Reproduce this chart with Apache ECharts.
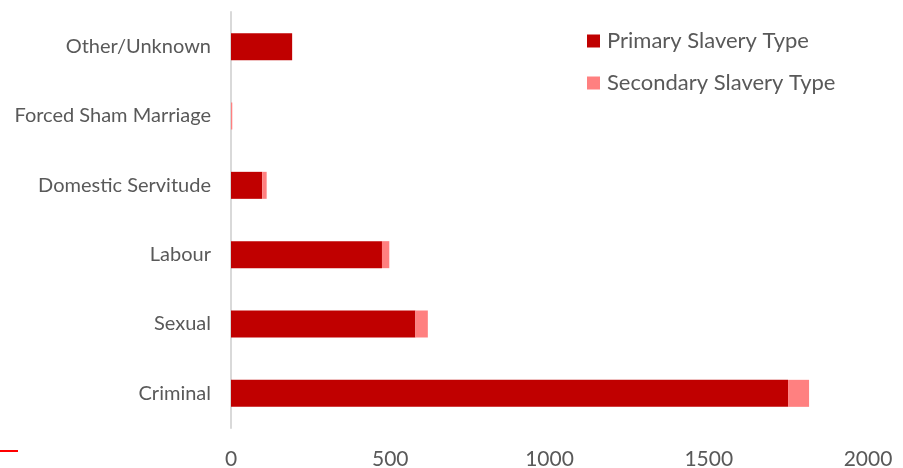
<!DOCTYPE html>
<html><head><meta charset="utf-8">
<script src="https://cdn.jsdelivr.net/npm/echarts@6/dist/echarts.min.js"></script>
<style>html,body{margin:0;padding:0;background:#fff}#c{width:903px;height:468px}</style>
</head><body><div id="c"></div>
<script>
const categories = ['Criminal','Sexual','Labour','Domestic Servitude','Forced Sham Marriage','Other/Unknown'];
const primary = [1749, 579, 474, 98, 0, 192];
const secondary = [66, 39, 23, 14, 4, 0];
const xTicks = [0, 500, 1000, 1500, 2000];
const font = 'Lato';
const chart = echarts.init(document.getElementById('c'));
chart.setOption({
  animation: false,
  grid: {left: 231, right: 35, top: 12, bottom: 40, containLabel: false, outerBoundsMode: 'none'},
  legend: {
    orient: 'vertical', left: 582, top: 25, itemGap: 20,
    itemWidth: 13, itemHeight: 13, icon: 'rect',
    textStyle: {fontFamily: font, fontSize: 22, color: '#595959', padding: [0,0,0,2]},
    data: ['Primary Slavery Type', 'Secondary Slavery Type']
  },
  xAxis: {
    type: 'value', min: xTicks[0], max: xTicks[xTicks.length-1], interval: 500,
    axisLine: {show: false}, axisTick: {show: false}, splitLine: {show: false},
    axisLabel: {fontFamily: font, fontSize: 21, color: '#595959', margin: 21,
      formatter: v => String(v)}
  },
  yAxis: {
    type: 'category', data: categories,
    axisLine: {show: true, lineStyle: {color: '#d9d9d9', width: 2}},
    axisTick: {show: false},
    axisLabel: {fontFamily: font, fontSize: 20, color: '#595959', margin: 20}
  },
  series: [
    {name: 'Primary Slavery Type', type: 'bar', stack: 's', data: primary,
     barWidth: 27, itemStyle: {color: '#c00000'}},
    {name: 'Secondary Slavery Type', type: 'bar', stack: 's', data: secondary,
     barWidth: 27, itemStyle: {color: '#ff8080'}}
  ],
  graphic: [{type: 'rect', left: 0, top: 450, shape: {width: 18, height: 2}, style: {fill: '#ff0000'}}]
});
</script></body></html>
